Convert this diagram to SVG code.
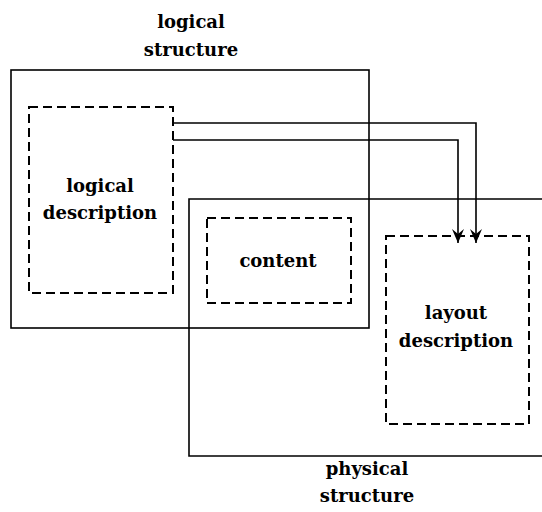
<svg xmlns="http://www.w3.org/2000/svg" width="542" height="512" viewBox="0 0 542 512">
<style>
.solid{fill:none;stroke:#000;stroke-width:1.6}
.dash{fill:none;stroke:#000;stroke-width:2;stroke-dasharray:9,5}
.conn{fill:none;stroke:#000;stroke-width:1.6}
text{font-family:"DejaVu Serif","Liberation Serif",serif;font-weight:bold;font-size:18px;text-anchor:middle;fill:#000}
</style>
<defs>
<marker id="ah" viewBox="0 0 16 12" refX="15" refY="6" markerWidth="16" markerHeight="12" markerUnits="userSpaceOnUse" orient="auto">
<path d="M1,0 L15,6 L1,12 L6,6 Z" fill="#000"/>
</marker>
</defs>
<rect width="542" height="512" fill="#fff"/>
<g id="logical-structure">
<rect class="solid" x="11" y="70" width="358" height="258"/>
<text x="191" y="28">logical</text>
<text x="191" y="56">structure</text>
</g>
<g id="physical-structure">
<path class="solid" d="M546,199 H189 V456 H546"/>
<text x="367" y="475">physical</text>
<text x="367" y="502">structure</text>
</g>
<g id="logical-description">
<rect class="dash" x="29" y="107" width="144" height="186"/>
<text x="100" y="192">logical</text>
<text x="100" y="219">description</text>
</g>
<g id="content">
<rect class="dash" x="207" y="218" width="144" height="85"/>
<text x="278" y="267">content</text>
</g>
<g id="layout-description">
<rect class="dash" x="386" y="236" width="143" height="188"/>
<text x="456" y="319">layout</text>
<text x="456" y="347">description</text>
</g>
<g id="connectors">
<path class="conn" d="M173,123 H476 V243" marker-end="url(#ah)"/>
<path class="conn" d="M173,140 H458 V243" marker-end="url(#ah)"/>
</g>
</svg>
